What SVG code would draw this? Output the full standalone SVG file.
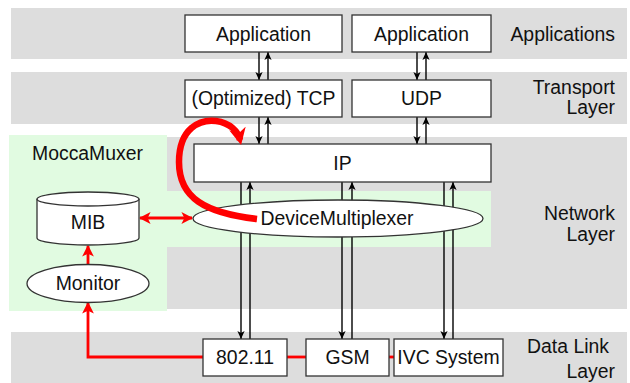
<svg xmlns="http://www.w3.org/2000/svg" width="630" height="383" viewBox="0 0 630 383">
<style>
text{font-family:"Liberation Sans",Arial,sans-serif;font-size:19.4px;fill:#111}
.c{text-anchor:middle}
.r{text-anchor:end}
.band{fill:#dddddd}
.green{fill:#e1fbe1}
.box{fill:#fff;stroke:#333;stroke-width:1.3}
.ln{stroke:#000;stroke-width:1.4;fill:none}
.red{stroke:#ff0000;stroke-width:2.8;fill:none}
</style>
<defs>
<marker id="ah" viewBox="0 0 10 10" refX="10" refY="5" markerWidth="8" markerHeight="8" markerUnits="userSpaceOnUse" orient="auto">
<path d="M0,0.5 L10,5 L0,9.5 L2.5,5 Z" fill="#000"/>
</marker>
<marker id="rh" viewBox="0 0 10 10" refX="9" refY="5" markerWidth="4.2" markerHeight="4.2" orient="auto-start-reverse">
<path d="M0,0 L10,5 L0,10 L2.5,5 Z" fill="#ff0000"/>
</marker>
<marker id="rh2" viewBox="0 0 10 10" refX="7" refY="5" markerWidth="2.6" markerHeight="2.6" orient="auto">
<path d="M0,0 L10,5 L0,10 L3,5 Z" fill="#ff0000"/>
</marker>
</defs>
<g id="bands">
<rect class="band" x="11" y="8" width="616" height="51"/>
<rect class="band" x="11" y="72" width="616" height="52"/>
<rect class="band" x="11" y="137" width="616" height="172"/>
<rect class="band" x="11" y="332" width="616" height="51"/>
<rect class="green" x="9" y="135" width="158" height="176"/>
<rect class="green" x="167" y="191" width="324" height="56"/>
<text class="r" x="615" y="41">Applications</text>
<text class="r" x="615" y="94">Transport</text>
<text class="r" x="615" y="114">Layer</text>
<text class="r" x="615" y="220">Network</text>
<text class="r" x="615" y="241">Layer</text>
<text class="r" x="609" y="353">Data Link</text>
<text class="r" x="615" y="378">Layer</text>
<text x="32" y="160">MoccaMuxer</text>
</g>
<g id="connectors">
<line class="ln" x1="259" y1="52" x2="259" y2="80" marker-end="url(#ah)"/>
<line class="ln" x1="268" y1="80" x2="268" y2="52" marker-end="url(#ah)"/>
<line class="ln" x1="417" y1="52" x2="417" y2="80" marker-end="url(#ah)"/>
<line class="ln" x1="426" y1="80" x2="426" y2="52" marker-end="url(#ah)"/>
<line class="ln" x1="259" y1="117" x2="259" y2="144" marker-end="url(#ah)"/>
<line class="ln" x1="268" y1="144" x2="268" y2="117" marker-end="url(#ah)"/>
<line class="ln" x1="417" y1="117" x2="417" y2="144" marker-end="url(#ah)"/>
<line class="ln" x1="426" y1="144" x2="426" y2="117" marker-end="url(#ah)"/>
<line class="ln" x1="241" y1="182" x2="241" y2="339" marker-end="url(#ah)"/>
<line class="ln" x1="250" y1="339" x2="250" y2="182" marker-end="url(#ah)"/>
<line class="ln" x1="342" y1="182" x2="342" y2="339" marker-end="url(#ah)"/>
<line class="ln" x1="352" y1="339" x2="352" y2="182" marker-end="url(#ah)"/>
<line class="ln" x1="444" y1="182" x2="444" y2="339" marker-end="url(#ah)"/>
<line class="ln" x1="453" y1="339" x2="453" y2="182" marker-end="url(#ah)"/>
<line class="red" x1="140" y1="218" x2="192" y2="218" marker-start="url(#rh)" marker-end="url(#rh)"/>
<line class="red" x1="88" y1="264" x2="88" y2="246" marker-end="url(#rh)"/>
<path class="red" d="M203,357 H88 V303" marker-end="url(#rh)"/>
<line class="red" x1="287" y1="357" x2="306" y2="357"/>
<line class="red" x1="389" y1="357" x2="394" y2="357"/>
</g>
<g id="app1"><rect class="box" x="185" y="15" width="157" height="37"/><text class="c" x="263.5" y="41">Application</text></g>
<g id="app2"><rect class="box" x="352" y="15" width="139" height="37"/><text class="c" x="421.5" y="41">Application</text></g>
<g id="tcp"><rect class="box" x="185" y="80" width="157" height="37"/><text class="c" x="263.5" y="105">(Optimized) TCP</text></g>
<g id="udp"><rect class="box" x="352" y="80" width="139" height="37"/><text class="c" x="421.5" y="105">UDP</text></g>
<g id="ip"><rect class="box" x="194" y="144" width="297" height="38"/><text class="c" x="342.5" y="170">IP</text></g>
<g id="devmux"><ellipse class="box" cx="338" cy="218.5" rx="145" ry="18.5"/><text class="c" x="337" y="225">DeviceMultiplexer</text></g>
<g id="mib">
<path class="box" d="M37,199 V238 A51,7 0 0 0 139,238 V199"/>
<ellipse class="box" cx="88" cy="199" rx="51" ry="7"/>
<text class="c" x="88" y="229">MIB</text>
</g>
<g id="monitor"><ellipse class="box" cx="88" cy="283.5" rx="61" ry="19"/><text class="c" x="88" y="290">Monitor</text></g>
<g id="wlan"><rect class="box" x="203" y="339" width="84" height="37"/><text class="c" x="245" y="364">802.11</text></g>
<g id="gsm"><rect class="box" x="306" y="339" width="83" height="37"/><text class="c" x="347.5" y="364">GSM</text></g>
<g id="ivc"><rect class="box" x="394" y="339" width="109" height="37"/><text class="c" x="448.5" y="364">IVC System</text></g>
<g id="flow">
<path d="M257,219 C205,213 179,198 179,162 C179,128 200,119 216,121 C230,123 238,131 240,140" fill="none" stroke="#ff0000" stroke-width="6.5" marker-end="url(#rh2)"/>
</g>
</svg>
